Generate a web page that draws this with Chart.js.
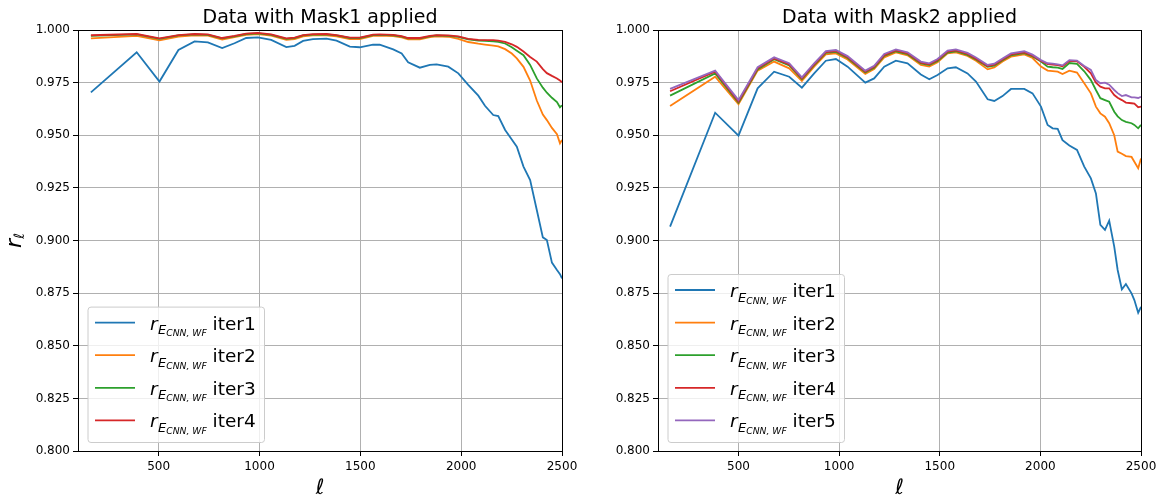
<!DOCTYPE html>
<html>
<head>
<meta charset="utf-8">
<script src="https://cdn.jsdelivr.net/npm/chart.js@4.4.1/dist/chart.umd.min.js"></script>
<style>
  html, body { margin: 0; padding: 0; background: #ffffff; }
  #wrap { position: relative; width: 1166px; height: 497px; overflow: hidden; }
  canvas { position: absolute; top: 0; }
</style>
</head>
<body>
<div id="wrap">
  <canvas id="mask1" width="583" height="497" style="left:0;width:583px;height:497px"></canvas>
  <canvas id="mask2" width="583" height="497" style="left:583px;width:583px;height:497px"></canvas>
</div>
<script>
// Multipoles for the Mask1 panel
const ellMask1 = [164, 391, 504, 598, 678, 744, 815, 876, 934, 992, 1058, 1133, 1174, 1216, 1265,
  1332, 1382, 1448, 1497, 1563, 1596, 1663, 1705, 1737, 1795, 1845, 1878, 1936, 1986, 2035, 2085,
  2118, 2159, 2184, 2218, 2251, 2276, 2309, 2342, 2375, 2405, 2425, 2450, 2475, 2490, 2500];

// Correlation coefficient r_l, Mask1
const mask1Iter1 = [0.9704, 0.9894, 0.9755, 0.9905, 0.9946, 0.9941, 0.9914, 0.9937, 0.9962, 0.9965,
  0.9953, 0.9919, 0.9925, 0.9948, 0.9957, 0.9959, 0.9949, 0.9921, 0.9918, 0.9930, 0.9930, 0.9908,
  0.9889, 0.9847, 0.9821, 0.9834, 0.9837, 0.9826, 0.9794, 0.9739, 0.9688, 0.9640, 0.9596, 0.9591,
  0.9525, 0.9480, 0.9446, 0.9351, 0.9287, 0.9145, 0.9015, 0.9002, 0.8895, 0.8860, 0.8840, 0.8820];
const mask1Iter2 = [0.9960, 0.9972, 0.9951, 0.9969, 0.9975, 0.9973, 0.9955, 0.9966, 0.9977, 0.9980,
  0.9973, 0.9953, 0.9957, 0.9970, 0.9974, 0.9975, 0.9970, 0.9957, 0.9957, 0.9972, 0.9973, 0.9971,
  0.9965, 0.9955, 0.9955, 0.9966, 0.9970, 0.9968, 0.9958, 0.9943, 0.9935, 0.9931, 0.9926, 0.9922,
  0.9909, 0.9888, 0.9865, 0.9825, 0.9760, 0.9665, 0.9598, 0.9572, 0.9535, 0.9505, 0.9462, 0.9478];
const mask1Iter3 = [0.9972, 0.9979, 0.9958, 0.9974, 0.9979, 0.9977, 0.9960, 0.9970, 0.9981, 0.9984,
  0.9977, 0.9958, 0.9962, 0.9974, 0.9978, 0.9979, 0.9974, 0.9962, 0.9962, 0.9976, 0.9977, 0.9975,
  0.9969, 0.9960, 0.9960, 0.9970, 0.9974, 0.9972, 0.9967, 0.9956, 0.9950, 0.9949, 0.9946, 0.9944,
  0.9936, 0.9918, 0.9902, 0.9880, 0.9834, 0.9770, 0.9726, 0.9702, 0.9678, 0.9658, 0.9633, 0.9642];
const mask1Iter4 = [0.9975, 0.9981, 0.9960, 0.9976, 0.9981, 0.9979, 0.9962, 0.9972, 0.9983, 0.9986,
  0.9979, 0.9960, 0.9964, 0.9976, 0.9980, 0.9981, 0.9976, 0.9964, 0.9964, 0.9978, 0.9979, 0.9977,
  0.9971, 0.9962, 0.9962, 0.9972, 0.9976, 0.9974, 0.9970, 0.9958, 0.9953, 0.9952, 0.9952, 0.9950,
  0.9944, 0.9932, 0.9920, 0.9898, 0.9872, 0.9850, 0.9814, 0.9795, 0.9782, 0.9770, 0.9760, 0.9752];

// Multipoles for the Mask2 panel
const ellMask2 = [160, 384, 500, 595, 677, 752, 815, 876, 934, 984, 1042, 1130, 1174, 1224, 1282,
  1340, 1406, 1448, 1489, 1539, 1580, 1638, 1680, 1738, 1771, 1812, 1854, 1920, 1961, 2003, 2036,
  2061, 2086, 2110, 2144, 2182, 2218, 2251, 2276, 2298, 2321, 2342, 2367, 2384, 2405, 2425, 2453,
  2467, 2486, 2500];

// Correlation coefficient r_l, Mask2
const mask2Iter1 = [0.9066, 0.9607, 0.9498, 0.9723, 0.9802, 0.9778, 0.9726, 0.9794, 0.9854, 0.9862,
  0.9826, 0.9750, 0.9770, 0.9826, 0.9854, 0.9842, 0.9789, 0.9766, 0.9786, 0.9818, 0.9823, 0.9794,
  0.9755, 0.9671, 0.9663, 0.9686, 0.9720, 0.9720, 0.9699, 0.9636, 0.9549, 0.9533, 0.9530, 0.9477,
  0.9451, 0.9430, 0.9351, 0.9295, 0.9224, 0.9074, 0.9050, 0.9094, 0.8971, 0.8860, 0.8768, 0.8793,
  0.8749, 0.8717, 0.8657, 0.8685];
const mask2Iter2 = [0.9639, 0.9778, 0.9648, 0.9807, 0.9850, 0.9818, 0.9758, 0.9826, 0.9884, 0.9889,
  0.9860, 0.9791, 0.9815, 0.9870, 0.9894, 0.9880, 0.9834, 0.9826, 0.9847, 0.9889, 0.9894, 0.9877,
  0.9854, 0.9813, 0.9822, 0.9850, 0.9873, 0.9884, 0.9867, 0.9826, 0.9807, 0.9805, 0.9802, 0.9791,
  0.9807, 0.9798, 0.9747, 0.9699, 0.9636, 0.9604, 0.9588, 0.9557, 0.9500, 0.9422, 0.9412, 0.9401,
  0.9397, 0.9374, 0.9343, 0.9390];
const mask2Iter3 = [0.9688, 0.9794, 0.9655, 0.9813, 0.9861, 0.9832, 0.9766, 0.9833, 0.9891, 0.9896,
  0.9867, 0.9798, 0.9821, 0.9877, 0.9899, 0.9885, 0.9841, 0.9833, 0.9853, 0.9893, 0.9899, 0.9882,
  0.9860, 0.9825, 0.9831, 0.9856, 0.9880, 0.9890, 0.9874, 0.9850, 0.9826, 0.9823, 0.9821, 0.9815,
  0.9843, 0.9839, 0.9804, 0.9762, 0.9715, 0.9676, 0.9667, 0.9659, 0.9612, 0.9590, 0.9572, 0.9564,
  0.9557, 0.9549, 0.9533, 0.9549];
const mask2Iter4 = [0.9709, 0.9802, 0.9660, 0.9818, 0.9865, 0.9837, 0.9770, 0.9837, 0.9895, 0.9900,
  0.9871, 0.9802, 0.9825, 0.9881, 0.9903, 0.9889, 0.9845, 0.9837, 0.9857, 0.9897, 0.9903, 0.9886,
  0.9864, 0.9829, 0.9835, 0.9860, 0.9884, 0.9894, 0.9878, 0.9853, 0.9838, 0.9836, 0.9833, 0.9828,
  0.9853, 0.9851, 0.9825, 0.9794, 0.9750, 0.9731, 0.9723, 0.9723, 0.9691, 0.9678, 0.9667, 0.9655,
  0.9652, 0.9650, 0.9633, 0.9636];
const mask2Iter5 = [0.9720, 0.9807, 0.9667, 0.9823, 0.9870, 0.9842, 0.9775, 0.9842, 0.9900, 0.9905,
  0.9876, 0.9807, 0.9830, 0.9886, 0.9908, 0.9894, 0.9850, 0.9842, 0.9862, 0.9902, 0.9908, 0.9891,
  0.9869, 0.9834, 0.9840, 0.9865, 0.9889, 0.9899, 0.9883, 0.9857, 0.9842, 0.9840, 0.9837, 0.9832,
  0.9857, 0.9855, 0.9829, 0.9810, 0.9762, 0.9747, 0.9750, 0.9740, 0.9715, 0.9700, 0.9686, 0.9691,
  0.9680, 0.9680, 0.9677, 0.9683];

// Axis ticks
const xTicks = [500, 1000, 1500, 2000, 2500];
const yTicks = [0.800, 0.825, 0.850, 0.875, 0.900, 0.925, 0.950, 0.975, 1.000];

const iterNames = ['iter1', 'iter2', 'iter3', 'iter4', 'iter5'];
const lineColors = ['#1f77b4', '#ff7f0e', '#2ca02c', '#d62728', '#9467bd'];
const FONT = '"DejaVu Sans", "Liberation Sans", sans-serif';

// Draws "r_{E_{CNN,WF}} iterN" with math-style subscripts
function drawLegendText(ctx, x, base, name) {
  ctx.textAlign = 'left';
  ctx.textBaseline = 'alphabetic';
  ctx.fillStyle = '#000';
  ctx.font = 'italic 18.5px ' + FONT;
  ctx.fillText('r', x, base);
  x += ctx.measureText('r').width + 0.5;
  ctx.font = 'italic 13px ' + FONT;
  ctx.fillText('E', x, base + 4.5);
  x += ctx.measureText('E').width;
  ctx.font = 'italic 9.2px ' + FONT;
  ctx.fillText('CNN, WF', x, base + 6.5);
  x += ctx.measureText('CNN, WF').width;
  ctx.font = '18.5px ' + FONT;
  ctx.fillText(' ' + name, x, base);
}

function roundRect(ctx, x, y, w, h, r) {
  ctx.beginPath();
  ctx.moveTo(x + r, y);
  ctx.lineTo(x + w - r, y);
  ctx.arcTo(x + w, y, x + w, y + r, r);
  ctx.lineTo(x + w, y + h - r);
  ctx.arcTo(x + w, y + h, x + w - r, y + h, r);
  ctx.lineTo(x + r, y + h);
  ctx.arcTo(x, y + h, x, y + h - r, r);
  ctx.lineTo(x, y + r);
  ctx.arcTo(x, y, x + r, y, r);
  ctx.closePath();
}

function decorPlugin(cfg) {
  return {
    id: 'decor',
    afterDraw(chart) {
      const ctx = chart.ctx;
      const a = chart.chartArea;
      ctx.save();

      // Legend box
      const n = cfg.count;
      const rowH = 32.6;
      const boxL = a.left + 10, boxW = 176.5;
      const boxH = rowH * n + 5;
      const boxT = a.bottom - 8.5 - boxH;
      roundRect(ctx, boxL, boxT, boxW, boxH, 3);
      ctx.fillStyle = 'rgba(255,255,255,0.8)';
      ctx.fill();
      ctx.strokeStyle = '#cccccc';
      ctx.lineWidth = 1;
      ctx.stroke();
      for (let i = 0; i < n; i++) {
        const y = boxT + 15.5 + i * rowH;
        ctx.strokeStyle = lineColors[i];
        ctx.lineWidth = 1.8;
        ctx.beginPath();
        ctx.moveTo(boxL + 7, y);
        ctx.lineTo(boxL + 47, y);
        ctx.stroke();
        drawLegendText(ctx, boxL + 62, y + 7, iterNames[i]);
      }

      // Frame around the plotting area
      ctx.strokeStyle = '#000';
      ctx.lineWidth = 1;
      ctx.strokeRect(Math.round(a.left) + 0.5, Math.round(a.top) + 0.5,
                     Math.round(a.right) - Math.round(a.left), Math.round(a.bottom) - Math.round(a.top));

      // Title
      const cx = (a.left + a.right) / 2;
      ctx.fillStyle = '#000';
      ctx.textAlign = 'center';
      ctx.textBaseline = 'alphabetic';
      ctx.font = '19px ' + FONT;
      ctx.fillText(cfg.title, cx, 23);

      // x-axis label
      ctx.font = 'italic 21px ' + FONT;
      ctx.fillText('\u2113', cx, 494);

      // y-axis label
      if (cfg.yLabel) {
        ctx.save();
        ctx.translate(21, (a.top + a.bottom) / 2);
        ctx.rotate(-Math.PI / 2);
        ctx.textAlign = 'left';
        ctx.font = 'italic 22px ' + FONT;
        const rw = ctx.measureText('r').width;
        ctx.font = 'italic 14px ' + FONT;
        const lw = ctx.measureText('\u2113').width;
        const start = -(rw + lw) / 2;
        ctx.font = 'italic 22px ' + FONT;
        ctx.fillText('r', start, 0);
        ctx.font = 'italic 14px ' + FONT;
        ctx.fillText('\u2113', start + rw, 3);
        ctx.restore();
      }
      ctx.restore();
    }
  };
}

function buildChart(id, ell, series, cfg) {
  const datasets = series.map((vals, i) => ({
    label: iterNames[i],
    data: ell.map((l, j) => ({ x: l, y: vals[j] })),
    borderColor: lineColors[i],
    backgroundColor: lineColors[i],
    borderWidth: 1.8,
    pointRadius: 0,
    tension: 0,
    fill: false,
    order: 10 - i
  }));
  const tickFont = { family: FONT, size: 12 };
  return new Chart(document.getElementById(id), {
    type: 'line',
    data: { datasets },
    options: {
      responsive: false,
      animation: false,
      devicePixelRatio: 1,
      layout: { padding: { top: 30, right: cfg.rightPad, bottom: 0, left: 0 } },
      plugins: { legend: { display: false }, tooltip: { enabled: false }, title: { display: false } },
      scales: {
        x: {
          type: 'linear', min: 100, max: 2500,
          afterBuildTicks: s => { s.ticks = xTicks.map(v => ({ value: v })); },
          afterFit: s => { s.height = 46; },
          grid: { color: '#b0b0b0', lineWidth: 1, tickColor: '#000', tickLength: 5, drawTicks: true },
          border: { display: false },
          ticks: { font: tickFont, color: '#000', padding: 4, maxRotation: 0, autoSkip: false,
                   callback: v => String(v) }
        },
        y: {
          type: 'linear', min: 0.8, max: 1.0,
          afterBuildTicks: s => { s.ticks = yTicks.map(v => ({ value: v })); },
          afterFit: s => { s.width = cfg.axisWidth; },
          grid: { color: '#b0b0b0', lineWidth: 1, tickColor: '#000', tickLength: 5, drawTicks: true },
          border: { display: false },
          ticks: { font: tickFont, color: '#000', padding: 3, autoSkip: false,
                   callback: v => Number(v).toFixed(3) }
        }
      }
    },
    plugins: [decorPlugin(cfg)]
  });
}

buildChart('mask1', ellMask1, [mask1Iter1, mask1Iter2, mask1Iter3, mask1Iter4],
  { title: 'Data with Mask1 applied', count: 4, axisWidth: 78, rightPad: 21, yLabel: true });
buildChart('mask2', ellMask2, [mask2Iter1, mask2Iter2, mask2Iter3, mask2Iter4, mask2Iter5],
  { title: 'Data with Mask2 applied', count: 5, axisWidth: 75, rightPad: 25, yLabel: false });
</script>
</body>
</html>
